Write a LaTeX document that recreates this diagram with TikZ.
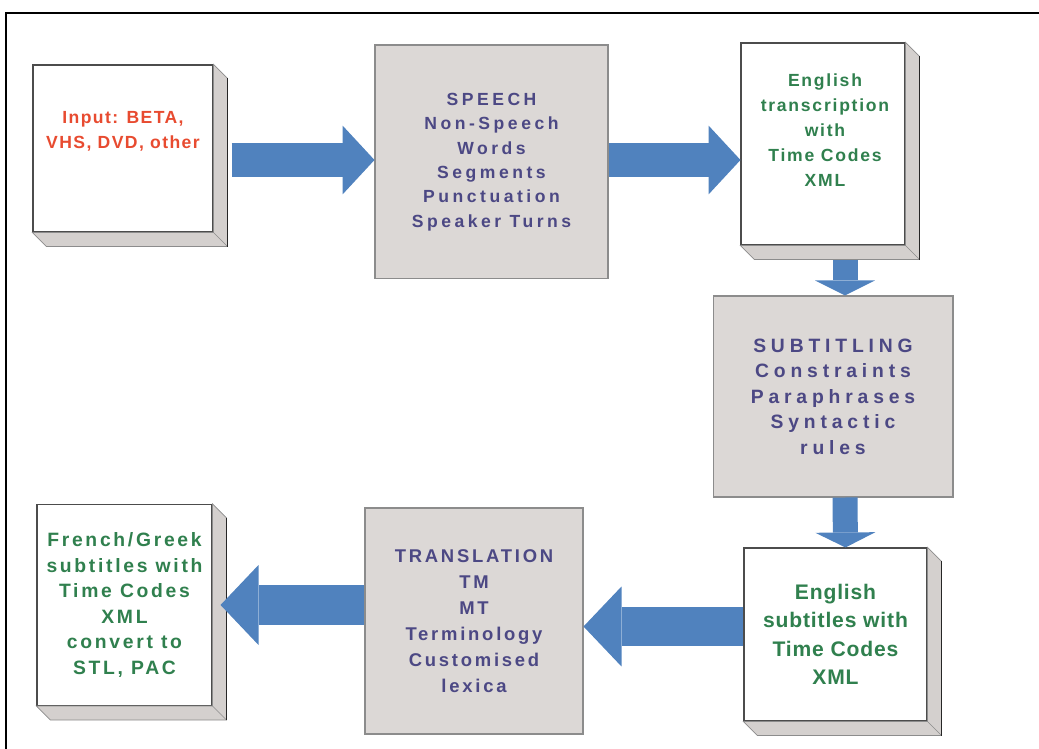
\documentclass[tikz,border=0pt]{standalone}
\usepackage{fontspec}
\setmainfont{Liberation Sans}
\usetikzlibrary{
    arrows.meta,
    calc,
    positioning
}

\definecolor{flowblue}{RGB}{80,130,190}
\definecolor{panelgray}{RGB}{220,216,214}
\definecolor{bevelgray}{RGB}{212,208,206}
\definecolor{stepnavy}{RGB}{76,72,132}
\definecolor{filegreen}{RGB}{48,128,78}
\definecolor{inputred}{RGB}{232,75,48}

% raised edge on the right and bottom of a file box
\newcommand{\boxbevel}[1]{%
    \filldraw[bevelgray, draw=black!45, line width=0.4pt]
        (#1.north east) -- ++(14,14) -- ($(#1.south east)+(14,14)$)
        -- ($(#1.south west)+(14,14)$) -- (#1.south west) -- (#1.south east) -- cycle;
    \draw[black!45, line width=0.3pt] (#1.south east) -- ++(14,14);
    \draw[black!85, line width=0.8pt] ($(#1.north east)+(14,14)$) -- ($(#1.south east)+(14,14)$);
}

\tikzset{
    panel/.style={draw=black!45, fill=panelgray, line width=0.6pt, text=stepnavy, align=center},
    filebox/.style={draw=black!70, fill=white, line width=0.6pt, align=center},
    flowarrow/.style={flowblue, line width=0.68cm,
        -{Triangle[length=0.64cm 0 0, width=1.38cm 0 0, line width=0pt]}},
    widearrow/.style={flowblue, line width=0.8cm,
        -{Triangle[length=0.76cm 0 0, width=1.6cm 0 0, line width=0pt]}},
    droparrow/.style={flowblue, line width=0.5cm,
        -{Triangle[length=0.3cm 0 0, width=1.2cm 0 0, line width=0pt]}}
}

\begin{document}
\begin{tikzpicture}[x=0.02cm, y=-0.02cm]
    \useasboundingbox (0,0) rectangle (1039,749);
    \draw[line width=1.1pt] (6,749) -- (6,13) -- (1039,13);

    \node[filebox, minimum width=3.6cm, minimum height=3.34cm] (in) at (123,148.5) {};
    \node[text=inputred, align=center,
        font=\bfseries\fontsize{10}{14.2}\selectfont\addfontfeature{LetterSpace=8}]
        (intxt) at (123,131) {Input: BETA,\\VHS, DVD, other};
    \boxbevel{in}

    \node[panel, minimum width=4.66cm, minimum height=4.68cm,
        font=\bfseries\fontsize{10}{13.9}\selectfont\addfontfeature{LetterSpace=20}]
        (speech) at (491.5,162) {SPEECH\\Non-Speech\\Words\\Segments\\Punctuation\\Speaker Turns};

    \node[filebox, minimum width=3.28cm, minimum height=4.04cm] (trans) at (823,144) {};
    \node[text=filegreen, align=center,
        font=\bfseries\fontsize{10}{14.2}\selectfont\addfontfeature{LetterSpace=10}]
        (transtxt) at (825,130) {English\\transcription\\with\\Time Codes\\XML};
    \boxbevel{trans}

    \node[panel, minimum width=4.8cm, minimum height=4.02cm,
        font=\bfseries\fontsize{11}{14.5}\selectfont\addfontfeature{LetterSpace=25}]
        (sub) at (833,396.5) {SUBTITLING\\Constraints\\Paraphrases\\Syntactic\\rules};

    \node[filebox, text=filegreen, minimum width=3.66cm, minimum height=3.46cm,
        font=\bfseries\fontsize{12}{16.2}\selectfont\addfontfeature{LetterSpace=4}]
        (subs) at (835.5,634.5) {English\\subtitles with\\Time Codes\\XML};
    \boxbevel{subs}

    \node[panel, minimum width=4.36cm, minimum height=4.52cm,
        font=\bfseries\fontsize{10.5}{14.8}\selectfont\addfontfeature{LetterSpace=15}]
        (transl) at (474,621) {TRANSLATION\\TM\\MT\\Terminology\\Customised\\lexica};

    \node[filebox, text=filegreen, minimum width=3.5cm, minimum height=4.02cm,
        font=\bfseries\fontsize{11}{14.6}\selectfont\addfontfeature{LetterSpace=14}]
        (fr) at (124.5,605) {French/Greek\\subtitles with\\Time Codes\\XML\\convert to\\STL, PAC};
    \boxbevel{fr}

    \coordinate (a1) at ($(in.east)+(18,11.5)$);
    \coordinate (l1) at ($(subs.west)+(0,-8)$);

    \draw[flowarrow] (a1) -- (speech.west |- a1);
    \draw[flowarrow] (speech.east |- a1) -- (trans.west |- a1);
    \draw[droparrow] ($(trans.south)+(22,14)$) -- ($(sub.north)+(12,0)$);
    \draw[droparrow] ($(sub.south)+(12,0)$) -- ($(subs.north)+(10,0)$);
    \draw[widearrow] (l1) -- (transl.east |- l1);
    \draw[widearrow] (transl.west |- fr) -- ($(fr.east)+(8,0)$);
\end{tikzpicture}
\end{document}
